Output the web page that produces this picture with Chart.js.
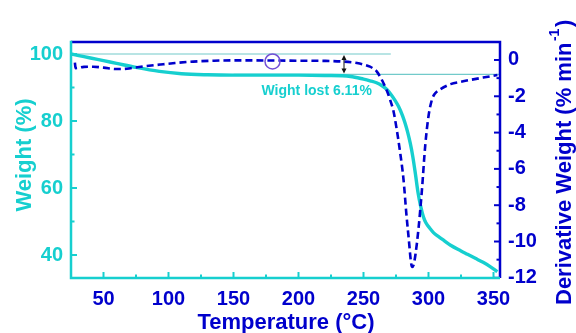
<!DOCTYPE html>
<html>
<head>
<meta charset="utf-8">
<title>TGA / DTG</title>
<script src="https://cdn.jsdelivr.net/npm/chart.js@4/dist/chart.umd.min.js"></script>
<style>
  html, body { margin: 0; padding: 0; background: #ffffff; }
  #wrap { width: 576px; height: 333px; }
</style>
</head>
<body>
<div id="wrap"><canvas id="c" width="576" height="333"></canvas></div>
<script>
// Thermogravimetric curve: temperature (°C) and remaining weight (%)
const weightTemps  = [25, 30, 40, 50, 60, 75, 93, 110, 130, 150, 170, 200, 220, 240, 250, 255, 260, 264, 268, 271, 274, 277, 280, 282, 284, 286, 288, 290, 292, 294, 296, 298, 301, 304, 308, 312, 317, 325, 330, 336, 342, 348, 353];
const weightValues = [100, 99.6, 98.8, 98.0, 97.2, 96.0, 94.8, 94.1, 93.8, 93.7, 93.7, 93.7, 93.6, 93.3, 92.5, 92.0, 91.4, 90.6, 89.4, 88.0, 86.3, 84.3, 81.6, 79.3, 76.6, 73.3, 69.2, 64.0, 58.5, 54.5, 51.5, 49.6, 48.0, 46.6, 45.4, 44.3, 42.9, 41.2, 40.2, 39.0, 37.8, 36.4, 35.0];

// Derivative weight curve: temperature (°C) and rate (% min^-1)
const derivTemps  = [28, 28.5, 35, 42, 50, 60, 68, 76, 85, 94, 105, 119, 135, 150, 180, 200, 220, 235, 245, 250, 255, 258, 260.3, 263, 265.4, 268, 270.5, 273, 275.5, 278, 280.8, 283, 285, 286.3, 287.3, 288.5, 290, 292.3, 294.9, 297.5, 300, 302.6, 305, 309, 317, 325, 332, 342, 353];
const derivValues = [-0.15, -0.45, -0.38, -0.37, -0.42, -0.5, -0.48, -0.4, -0.32, -0.25, -0.17, -0.09, -0.04, -0.02, -0.03, -0.04, -0.05, -0.09, -0.17, -0.25, -0.37, -0.5, -0.64, -0.95, -1.28, -1.7, -2.2, -2.8, -3.8, -5.0, -6.6, -8.5, -10.0, -11.0, -11.4, -11.3, -10.7, -9.3, -7.2, -4.7, -3.1, -2.2, -1.85, -1.62, -1.33, -1.2, -1.1, -0.97, -0.83];

// Tick labels
const tempTicks   = [50, 100, 150, 200, 250, 300, 350];
const weightTicks = [40, 60, 80, 100];
const derivTicks  = [0, -2, -4, -6, -8, -10, -12];

// Weight-loss annotation
const lossPercent   = 6.11;
const lossText      = 'Wight lost 6.11%';
const lossTopEnd    = 271;   // °C where the 100 % guide ends
const lossLowStart  = 150;   // °C where the residual-weight guide starts
const arrowTemp     = 235;   // °C of the double arrow
const circleTemp    = 180;   // °C of the marker circle
const circleDeriv   = -0.08;
const labelTemp     = 214;
const labelWeight   = 87.9;

const CYAN = '#16cfcf';
const BLUE = '#0000cc';
const GUIDE = '#72caca';
const FONT = '"Liberation Sans", Arial, Helvetica, sans-serif';

const pts = (xs, ys) => xs.map((v, i) => ({ x: v, y: ys[i] }));

function fixedTicks(values) {
  return scale => { scale.ticks = values.map(v => ({ value: v })); };
}

function midpoints(values) {
  const s = [...values].sort((a, b) => a - b);
  const out = [];
  for (let i = 0; i < s.length - 1; i++) out.push((s[i] + s[i + 1]) / 2);
  return out;
}

const framePlugin = {
  id: 'frame',
  afterDatasetsDraw(chart) {
    const { ctx, scales: { x, y, y2 } } = chart;
    ctx.save();

    // marker circle on the derivative curve
    ctx.strokeStyle = '#7350d6';
    ctx.lineWidth = 1.5;
    ctx.beginPath();
    ctx.arc(x.getPixelForValue(circleTemp), y2.getPixelForValue(circleDeriv), 7.5, 0, Math.PI * 2);
    ctx.stroke();

    // double-headed arrow between the two guide lines
    const ax = x.getPixelForValue(arrowTemp);
    const yTop = y.getPixelForValue(100) + 1;
    const yBot = y.getPixelForValue(100 - lossPercent) - 1;
    ctx.strokeStyle = '#111111';
    ctx.fillStyle = '#111111';
    ctx.lineWidth = 1;
    ctx.beginPath();
    ctx.moveTo(ax, yTop + 4);
    ctx.lineTo(ax, yBot - 4);
    ctx.stroke();
    ctx.beginPath();
    ctx.moveTo(ax, yTop); ctx.lineTo(ax - 2.5, yTop + 5); ctx.lineTo(ax + 2.5, yTop + 5); ctx.closePath();
    ctx.fill();
    ctx.beginPath();
    ctx.moveTo(ax, yBot); ctx.lineTo(ax - 2.5, yBot - 5); ctx.lineTo(ax + 2.5, yBot - 5); ctx.closePath();
    ctx.fill();

    // weight-loss label
    ctx.fillStyle = CYAN;
    ctx.font = 'bold 14px ' + FONT;
    ctx.textAlign = 'center';
    ctx.textBaseline = 'alphabetic';
    ctx.fillText(lossText, x.getPixelForValue(labelTemp), y.getPixelForValue(labelWeight));
    ctx.restore();
  },
  afterDraw(chart) {
    const { ctx, chartArea: a, scales: { x, y, y2 } } = chart;
    ctx.save();
    ctx.lineCap = 'butt';

    // inward tick marks
    const tick = (color, list, len, fn) => {
      ctx.strokeStyle = color;
      ctx.lineWidth = 2;
      list.forEach(v => { ctx.beginPath(); fn(v, len); ctx.stroke(); });
    };
    const xTick = (v, len) => { const p = x.getPixelForValue(v); ctx.moveTo(p, a.bottom); ctx.lineTo(p, a.bottom - len); };
    const yTick = (v, len) => { const p = y.getPixelForValue(v); ctx.moveTo(a.left, p); ctx.lineTo(a.left + len, p); };
    const y2Tick = (v, len) => { const p = y2.getPixelForValue(v); ctx.moveTo(a.right, p); ctx.lineTo(a.right - len, p); };
    tick(CYAN, tempTicks, 6, xTick);
    tick(CYAN, midpoints(tempTicks), 3.5, xTick);
    tick(CYAN, weightTicks, 6, yTick);
    tick(CYAN, midpoints(weightTicks), 3.5, yTick);
    tick(BLUE, derivTicks, 6, y2Tick);
    tick(BLUE, midpoints(derivTicks), 3.5, y2Tick);

    // frame: blue top/right, cyan left/bottom
    ctx.lineWidth = 2.5;
    ctx.strokeStyle = BLUE;
    ctx.beginPath();
    ctx.moveTo(a.left, a.top); ctx.lineTo(a.right, a.top); ctx.lineTo(a.right, a.bottom);
    ctx.stroke();
    ctx.strokeStyle = CYAN;
    ctx.beginPath();
    ctx.moveTo(a.left, a.top - 1.25); ctx.lineTo(a.left, a.bottom); ctx.lineTo(a.right, a.bottom);
    ctx.stroke();

    // axis titles
    ctx.font = 'bold 22px ' + FONT;
    ctx.textBaseline = 'alphabetic';

    ctx.fillStyle = BLUE;
    ctx.textAlign = 'center';
    ctx.fillText('Temperature (°C)', (a.left + a.right) / 2 + 0.5, 329);

    ctx.save();
    ctx.fillStyle = CYAN;
    ctx.translate(31, (a.top + a.bottom) / 2 - 5);
    ctx.rotate(-Math.PI / 2);
    ctx.textAlign = 'center';
    ctx.fillText('Weight (%)', 0, 0);
    ctx.restore();

    ctx.save();
    ctx.fillStyle = BLUE;
    ctx.translate(571, 305);
    ctx.rotate(-Math.PI / 2);
    ctx.textAlign = 'left';
    const main = 'Derivative Weight (% min';
    ctx.fillText(main, 0, 0);
    let w = ctx.measureText(main).width + 1.5;
    ctx.font = 'bold 14px ' + FONT;
    ctx.fillText('-1', w, -12);
    w += ctx.measureText('-1').width + 1.5;
    ctx.font = 'bold 22px ' + FONT;
    ctx.fillText(')', w, 0);
    ctx.restore();

    ctx.restore();
  }
};

const tickFont = { family: FONT, size: 20, weight: 'bold' };

new Chart(document.getElementById('c'), {
  type: 'line',
  data: {
    datasets: [
      {
        label: 'Derivative weight',
        data: pts(derivTemps, derivValues),
        yAxisID: 'y2',
        borderColor: BLUE,
        borderWidth: 2.6,
        borderDash: [7, 4],
        pointRadius: 0,
        cubicInterpolationMode: 'monotone',
        order: 0
      },
      {
        label: 'Weight',
        data: pts(weightTemps, weightValues),
        yAxisID: 'y',
        borderColor: CYAN,
        borderWidth: 3.4,
        pointRadius: 0,
        cubicInterpolationMode: 'monotone',
        order: 1
      },
      {
        label: 'Initial weight',
        data: pts([25, lossTopEnd], [100, 100]),
        yAxisID: 'y',
        borderColor: GUIDE,
        borderWidth: 1.2,
        pointRadius: 0,
        order: 2
      },
      {
        label: 'Weight after loss',
        data: pts([lossLowStart, 355], [100 - lossPercent, 100 - lossPercent]),
        yAxisID: 'y',
        borderColor: GUIDE,
        borderWidth: 1.2,
        pointRadius: 0,
        order: 3
      }
    ]
  },
  options: {
    responsive: false,
    animation: false,
    devicePixelRatio: 1,
    layout: { padding: { top: 42, left: 0, right: 0, bottom: 0 } },
    plugins: { legend: { display: false }, tooltip: { enabled: false } },
    scales: {
      x: {
        type: 'linear',
        min: 25,
        max: 355,
        afterBuildTicks: fixedTicks(tempTicks),
        afterFit: s => { s.height = 55; },
        grid: { display: false, drawTicks: false },
        border: { display: false },
        ticks: { color: BLUE, font: tickFont, padding: 9, maxRotation: 0, autoSkip: false, callback: v => String(v) }
      },
      y: {
        type: 'linear',
        position: 'left',
        min: 33.13,
        max: 103.58,
        afterBuildTicks: fixedTicks(weightTicks),
        afterFit: s => { s.width = 71; },
        grid: { display: false, drawTicks: false },
        border: { display: false },
        ticks: { color: CYAN, font: tickFont, padding: 8, autoSkip: false, callback: v => String(v) }
      },
      y2: {
        type: 'linear',
        position: 'right',
        min: -12.01,
        max: 0.99,
        afterBuildTicks: fixedTicks(derivTicks),
        afterFit: s => { s.width = 76; },
        grid: { display: false, drawTicks: false },
        border: { display: false },
        ticks: { color: BLUE, font: tickFont, padding: 8, autoSkip: false, callback: v => String(v) }
      }
    }
  },
  plugins: [framePlugin]
});
</script>
</body>
</html>
